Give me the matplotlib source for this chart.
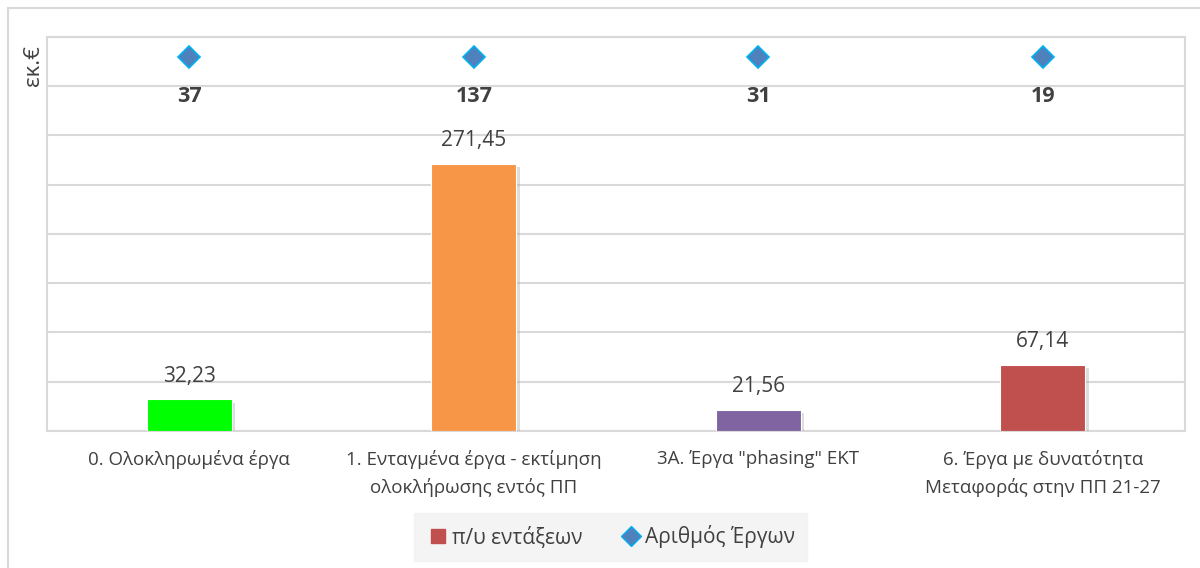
import matplotlib.pyplot as plt
import matplotlib.patheffects as pe
from matplotlib.patches import Rectangle
from matplotlib.lines import Line2D

plt.rcParams['font.family'] = ['Open Sans', 'DejaVu Sans']

categories = ['0. Ολοκληρωμένα έργα',
              '1. Ενταγμένα έργα - εκτίμηση\nολοκλήρωσης εντός ΠΠ',
              '3Α. Έργα "phasing" ΕΚΤ',
              '6. Έργα με δυνατότητα\nΜεταφοράς στην ΠΠ 21-27']
amounts = [32.23, 271.45, 21.56, 67.14]
amount_labels = ['32,23', '271,45', '21,56', '67,14']
project_counts = [37, 137, 31, 19]
bar_colors = ['#00FF00', '#F79646', '#8064A2', '#C0504D']
marker_level = 380  # diamonds sit on a fixed level, counts shown as labels

txt = '#404040'
grid = '#D9D9D9'

fig = plt.figure(figsize=(12, 5.68), dpi=100)
ax = fig.add_axes([0.0392, 0.2412, 0.9483, 0.6937])

x = range(len(categories))
bars = ax.bar(x, amounts, width=0.30, color=bar_colors, edgecolor='white', linewidth=0.8, zorder=3)
for b in bars:
    b.set_path_effects([pe.SimplePatchShadow(offset=(2.5, -2.5), shadow_rgbFace='#A0A0A0', alpha=0.35), pe.Normal()])

for xi, v, lab in zip(x, amounts, amount_labels):
    ax.annotate(lab, (xi, v), xytext=(0, 9), textcoords='offset points',
                ha='center', va='bottom', fontsize=15, color=txt)

ax.plot(list(x), [marker_level] * len(categories), linestyle='none', marker='D', markersize=11,
        markerfacecolor='#4F81BD', markeredgecolor='#00B0F0', markeredgewidth=1.2, zorder=4)
for xi, n in zip(x, project_counts):
    ax.annotate(str(n), (xi, marker_level), xytext=(0, -29), textcoords='offset points',
                ha='center', va='center', fontsize=15.5, fontweight='bold', color=txt)

ax.set_xlim(-0.5, len(categories) - 0.5)
ax.set_ylim(0, 400)
ax.set_yticks(range(0, 401, 50))
ax.set_yticklabels([])
ax.tick_params(axis='y', length=0)
ax.tick_params(axis='x', length=0, pad=14, labelsize=13.5, labelcolor=txt)
ax.set_xticks(list(x))
ax.set_xticklabels(categories, linespacing=1.55)
ax.grid(axis='y', color=grid, linewidth=1.5, zorder=0)
for s in ax.spines.values():
    s.set_color(grid)
    s.set_linewidth(1.5)

fig.text(33 / 1200, 1 - 66 / 568, 'εκ.€', rotation=90, ha='center', va='center', fontsize=16, color=txt)

# outer chart frame
fig.patches.append(Rectangle((8 / 1200, -0.1), 1.2, 1.1 - 8 / 568, transform=fig.transFigure,
                             fill=False, edgecolor=grid, linewidth=1.5))

handles = [Line2D([], [], linestyle='none', marker='s', markersize=10, color='#C0504D'),
           Line2D([], [], linestyle='none', marker='D', markersize=10,
                  markerfacecolor='#4F81BD', markeredgecolor='#00B0F0')]
leg = fig.legend(handles, ['π/υ εντάξεων', 'Αριθμός Έργων'], loc='center',
                 bbox_to_anchor=(0.509, 1 - 537 / 568), ncol=2, frameon=True, fontsize=15,
                 handletextpad=0.1, columnspacing=1.8, borderpad=0.6, handlelength=1.1,
                 labelcolor=txt)
leg.get_frame().set_facecolor('#F2F2F2')
leg.get_frame().set_edgecolor('#F2F2F2')
leg.get_frame().set_boxstyle('square', pad=0)

fig.savefig('out.png', dpi=100)
